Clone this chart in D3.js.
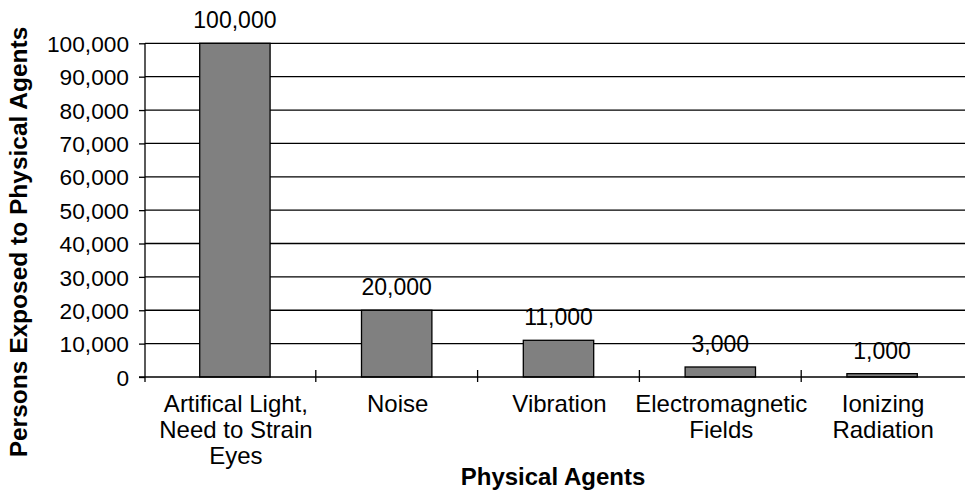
<!DOCTYPE html>
<html>
<head>
<meta charset="utf-8">
<script src="https://cdn.jsdelivr.net/npm/d3@7/dist/d3.min.js"></script>
<style>
  body { margin: 0; background: #fff; }
  text { font-family: "Liberation Sans", Arial, sans-serif; fill: #000; }
</style>
</head>
<body>
<div id="chart"></div>
<script>
// categories (split into lines) and values
var categories = [
    ["Artifical Light,", "Need to Strain", "Eyes"],
    ["Noise"],
    ["Vibration"],
    ["Electromagnetic", "Fields"],
    ["Ionizing", "Radiation"]
];
var values = [100000, 20000, 11000, 3000, 1000];
var yTicks = [0, 10000, 20000, 30000, 40000, 50000, 60000, 70000, 80000, 90000, 100000];

var W = 965, H = 490;
var plotLeft = 145, plotRight = 965, plotTop = 43.3, plotBottom = 377;
var fontSize = "23px";

var svg = d3.select("#chart").append("svg")
    .attr("width", W)
    .attr("height", H);

var keys = categories.map(function(d, i) { return i; });

// x band scale
var x = d3.scaleBand()
    .domain(keys)
    .range([154, 963])
    .paddingInner(0.565)
    .paddingOuter(0.2825);

var y = d3.scaleLinear()
    .domain([0, 100000])
    .range([plotBottom, plotTop]);

// gridlines
svg.append("g")
    .selectAll("line")
    .data(yTicks.slice(1))
    .enter()
    .append("line")
    .attr("x1", plotLeft)
    .attr("x2", plotRight)
    .attr("y1", function(d) { return y(d); })
    .attr("y2", function(d) { return y(d); })
    .attr("stroke", "#000")
    .attr("stroke-width", 1.3);

// bars
svg.append("g")
    .selectAll("rect")
    .data(values)
    .enter()
    .append("rect")
    .attr("x", function(d, i) { return x(i); })
    .attr("y", function(d) { return y(d); })
    .attr("width", x.bandwidth())
    .attr("height", function(d) { return plotBottom - y(d); })
    .attr("fill", "#808080")
    .attr("stroke", "#000")
    .attr("stroke-width", 1.3);

// y axis
var yAxis = svg.append("g")
    .attr("transform", "translate(" + plotLeft + ",0)")
    .call(d3.axisLeft(y).tickValues(yTicks).tickSize(6).tickPadding(10)
        .tickFormat(d3.format(",")));
yAxis.select(".domain").remove();
yAxis.selectAll("line").attr("stroke", "#000").attr("stroke-width", 1.3);
yAxis.selectAll("text")
    .style("font-size", "22.7px")
    .style("font-family", "'Liberation Sans', Arial, sans-serif")
    .attr("dy", "0.36em");
yAxis.append("line")
    .attr("x1", 0).attr("x2", 0)
    .attr("y1", plotTop).attr("y2", plotBottom + 5)
    .attr("stroke", "#000").attr("stroke-width", 1.3);

// x axis baseline
svg.append("line")
    .attr("x1", plotLeft - 6).attr("x2", plotRight)
    .attr("y1", plotBottom).attr("y2", plotBottom)
    .attr("stroke", "#000").attr("stroke-width", 1.3);

// category separators
var seps = keys.slice(1).map(function(i) { return x(i) - x.step() * x.paddingInner() / 2; });
svg.append("g")
    .selectAll("line")
    .data(seps)
    .enter()
    .append("line")
    .attr("x1", function(d) { return d; })
    .attr("x2", function(d) { return d; })
    .attr("y1", plotBottom - 7)
    .attr("y2", plotBottom + 5)
    .attr("stroke", "#000")
    .attr("stroke-width", 1.3);

// category labels
var cat = svg.append("g")
    .selectAll("text")
    .data(categories)
    .enter()
    .append("text")
    .attr("text-anchor", "middle")
    .style("font-size", "24px")
    .attr("transform", function(d, i) {
        return "translate(" + (x(i) + x.bandwidth() / 2 + 1) + "," + 412 + ")";
    });
cat.selectAll("tspan")
    .data(function(d) { return d; })
    .enter()
    .append("tspan")
    .attr("x", 0)
    .attr("y", function(d, j) { return j * 26; })
    .text(function(d) { return d; });

// value labels
svg.append("g")
    .selectAll("text")
    .data(values)
    .enter()
    .append("text")
    .attr("text-anchor", "middle")
    .style("font-size", fontSize)
    .attr("x", function(d, i) { return x(i) + x.bandwidth() / 2; })
    .attr("y", function(d) { return y(d) - 15; })
    .text(function(d) { return d3.format(",")(d); });

// axis titles
svg.append("text")
    .attr("text-anchor", "middle")
    .style("font-size", "24px")
    .style("font-weight", "bold")
    .attr("x", 553)
    .attr("y", 485)
    .text("Physical Agents");

svg.append("text")
    .attr("text-anchor", "middle")
    .style("font-size", "24.5px")
    .style("font-weight", "bold")
    .attr("transform", "translate(27,242) rotate(-90)")
    .text("Persons Exposed to Physical Agents");
</script>
</body>
</html>
